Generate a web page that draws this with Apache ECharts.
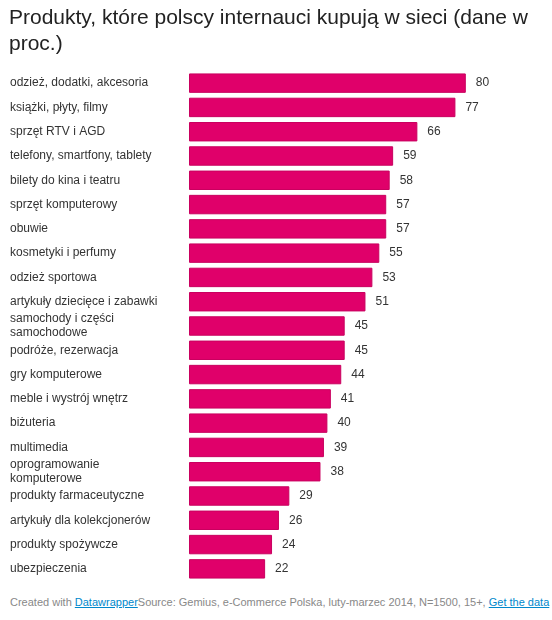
<!DOCTYPE html>
<html>
<head>
<meta charset="utf-8">
<script src="https://cdn.jsdelivr.net/npm/echarts@6/dist/echarts.min.js"></script>
<style>
  body { margin: 0; background: #fff; font-family: "Liberation Sans", Arial, sans-serif; }
  #chart { width: 552px; height: 590px; }
  .foot { position: absolute; left: 10px; top: 596px; font-size: 11px; color: #888; white-space: nowrap; }
  .foot a { color: #0088cc; text-decoration: underline; }
</style>
</head>
<body>
<div id="chart"></div>
<div class="foot">Created with <a href="#">Datawrapper</a>Source: Gemius, e-Commerce Polska, luty-marzec 2014, N=1500, 15+, <a href="#">Get the data</a></div>
<script>
// kategorie i wartości (proc.)
var categories = [
  'odzież, dodatki, akcesoria',
  'książki, płyty, filmy',
  'sprzęt RTV i AGD',
  'telefony, smartfony, tablety',
  'bilety do kina i teatru',
  'sprzęt komputerowy',
  'obuwie',
  'kosmetyki i perfumy',
  'odzież sportowa',
  'artykuły dziecięce i zabawki',
  'samochody i części\nsamochodowe',
  'podróże, rezerwacja',
  'gry komputerowe',
  'meble i wystrój wnętrz',
  'biżuteria',
  'multimedia',
  'oprogramowanie\nkomputerowe',
  'produkty farmaceutyczne',
  'artykuły dla kolekcjonerów',
  'produkty spożywcze',
  'ubezpieczenia'
];
var values = [80, 77, 66, 59, 58, 57, 57, 55, 53, 51, 45, 45, 44, 41, 40, 39, 38, 29, 26, 24, 22];

var myChart = echarts.init(document.getElementById('chart'));
myChart.setOption({
  animation: false,
  textStyle: { fontFamily: '"Liberation Sans", Arial, sans-serif' },
  title: {
    text: 'Produkty, które polscy internauci kupują w sieci (dane w\nproc.)',
    left: 9,
    top: 5,
    padding: 0,
    textStyle: { fontSize: 21, fontWeight: 'normal', color: '#222', lineHeight: 26 }
  },
  grid: { left: 189, right: 17, top: 71, bottom: 9 },
  xAxis: {
    type: 'value',
    min: 0,
    max: 100,
    show: false
  },
  yAxis: {
    type: 'category',
    data: categories,
    inverse: true,
    axisLine: { show: false },
    axisTick: { show: false },
    axisLabel: {
      align: 'left',
      margin: 179,
      fontSize: 12,
      color: '#333',
      lineHeight: 14
    }
  },
  series: [{
    type: 'bar',
    data: values,
    barCategoryGap: '20%',
    itemStyle: { color: '#e0006a', borderColor: '#c9005f', borderWidth: 1 },
    label: {
      show: true,
      position: 'right',
      distance: 10,
      fontSize: 12,
      color: '#333'
    }
  }]
});
</script>
</body>
</html>
